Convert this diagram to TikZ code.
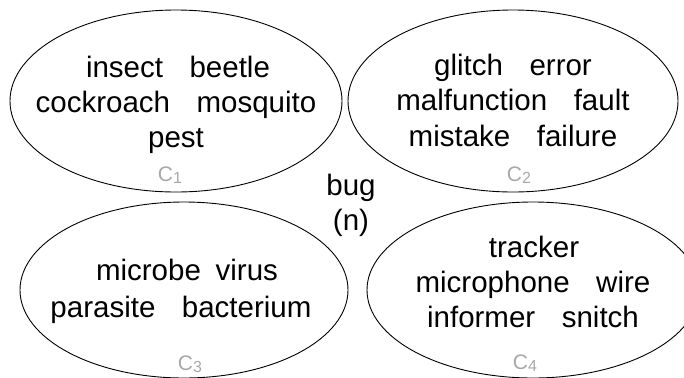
\documentclass[tikz,border=0pt]{standalone}
\usepackage{fontspec}
\setmainfont{Liberation Sans}
\usetikzlibrary{shapes.geometric}
\definecolor{labelgray}{HTML}{A8A8A8}
\newcommand{\gap}{\hspace{0.9em}}
\tikzset{
  sense/.style={draw, ellipse, line width=0.9bp, inner sep=0pt},
  word/.style={anchor=base, inner sep=0pt, font=\fontsize{29.5bp}{35bp}\selectfont},
  cluster/.style={anchor=base, inner sep=0pt, text=labelgray,
    font=\fontsize{21bp}{22bp}\selectfont},
}
\newcommand{\clabel}[1]{C\raisebox{-2bp}{\fontsize{16bp}{17bp}\selectfont #1}}
\begin{document}
\begin{tikzpicture}[x=1bp, y=-1bp]
  \useasboundingbox (0,0) rectangle (684,377);

  % the four sense clusters
  \node[sense, minimum width=332bp, minimum height=182bp] (e1) at (176,101) {};
  \node[sense, minimum width=330bp, minimum height=182bp] (e2) at (513,101) {};
  \node[sense, minimum width=328bp, minimum height=176bp] (e3) at (184,290) {};
  \node[sense, minimum width=332bp, minimum height=176bp] (e4) at (533,290) {};

  % cluster 1
  \node[word] (w1a) at (178,77)  {insect\gap beetle};
  \node[word] (w1b) at (176,112) {cockroach\gap mosquito};
  \node[word] (w1c) at (176,147) {pest};
  \node[cluster] (c1) at (170,181) {\clabel{1}};

  % cluster 2
  \node[word] (w2a) at (513,75)  {glitch\gap error};
  \node[word] (w2b) at (513,110) {malfunction\gap fault};
  \node[word] (w2c) at (513,146) {mistake\gap failure};
  \node[cluster] (c2) at (519,181) {\clabel{2}};

  % cluster 3
  \node[word] (w3a) at (187,280) {microbe\hspace{0.5em}virus};
  \node[word] (w3b) at (181,317) {parasite\gap bacterium};
  \node[cluster] (c3) at (190,370) {\clabel{3}};

  % cluster 4
  \node[word] (w4a) at (534,257) {tracker};
  \node[word] (w4b) at (533,292) {microphone\gap wire};
  \node[word] (w4c) at (533,327) {informer\gap snitch};
  \node[cluster] (c4) at (525,369) {\clabel{4}};

  % the target word
  \node[word] (bug) at (351,195) {bug};
  \node[word] (pos) at (351,230) {(n)};
\end{tikzpicture}
\end{document}
